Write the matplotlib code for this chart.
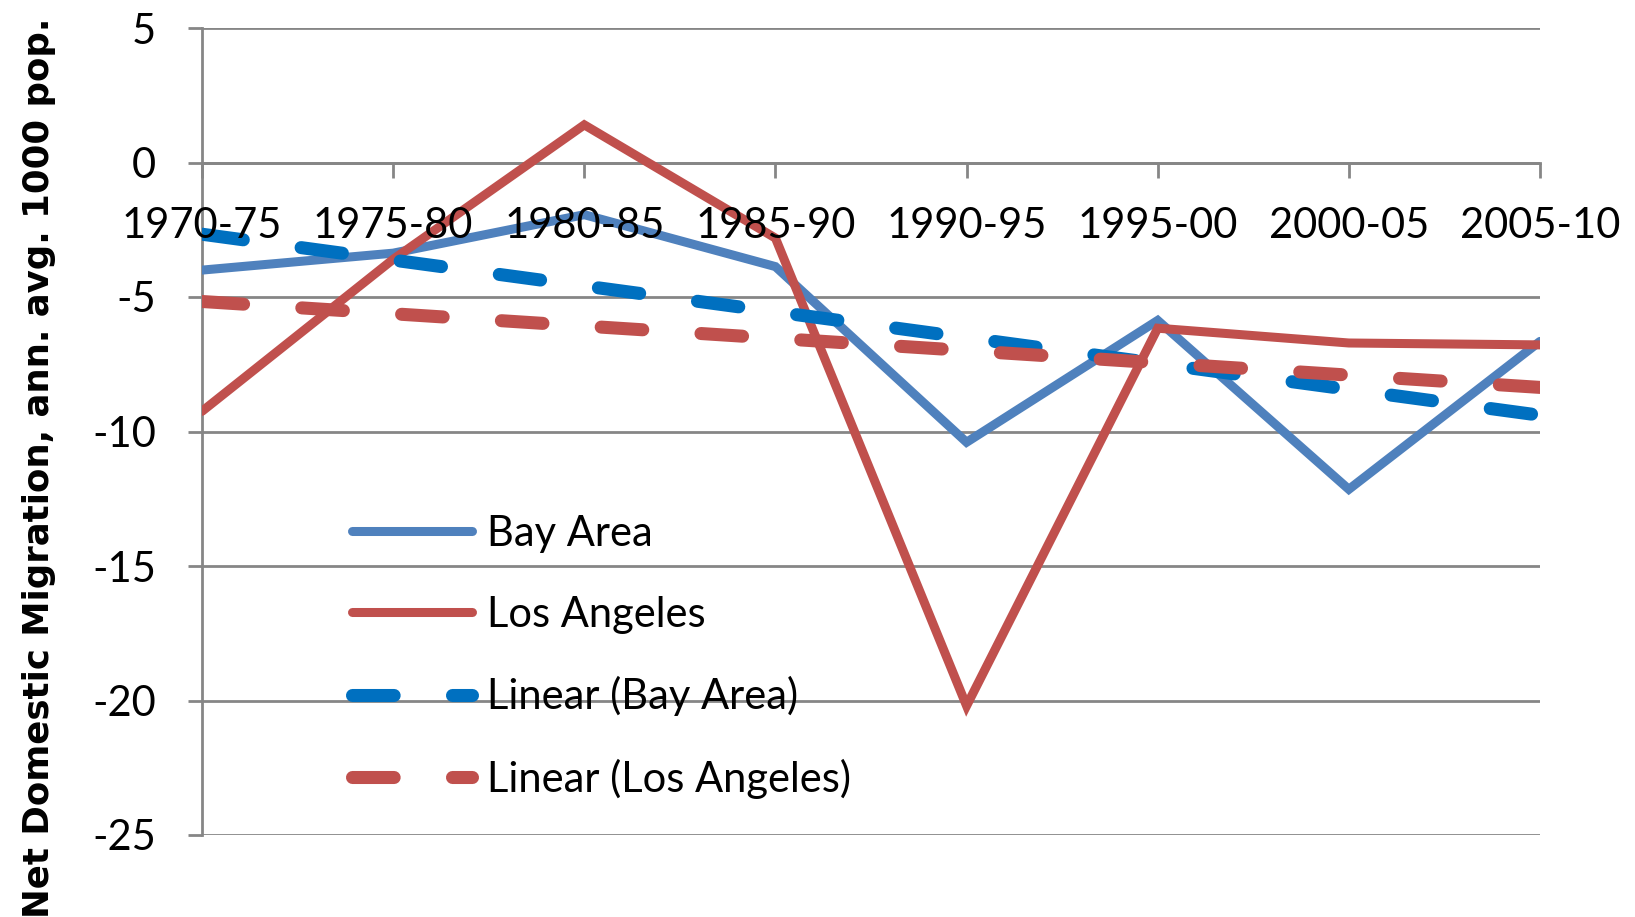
"""
Net domestic migration, Bay Area vs Los Angeles, with linear trend lines.
"""

import numpy as np
import matplotlib
matplotlib.use('Agg')
import matplotlib.pyplot as plt

plt.rcParams['font.family'] = ['Lato', 'DejaVu Sans']
plt.rcParams['lines.scale_dashes'] = False
plt.rcParams['axes.unicode_minus'] = False

periods = ['1970-75', '1975-80', '1980-85', '1985-90',
           '1990-95', '1995-00', '2000-05', '2005-10']
bay_area = [-4.0, -3.37, -1.94, -3.87, -10.4, -5.87, -12.15, -6.65]
los_angeles = [-9.25, -3.6, 1.4, -2.81, -20.2, -6.16, -6.71, -6.78]

grid_color = '#868686'
fs = 30

fig = plt.figure(figsize=(16.35, 9.17), dpi=100)
ax = fig.add_axes([202/1635, 1 - 835/917, 1338/1635, 807/917])

x = np.arange(len(periods))

# trend lines are least-squares fits, like Excel's "Linear" trendline
bay_fit = np.polyval(np.polyfit(x, bay_area, 1), x)
la_fit = np.polyval(np.polyfit(x, los_angeles, 1), x)

ax.plot(x, bay_area, color='#4F81BD', lw=6.5, solid_capstyle='round',
        solid_joinstyle='miter', label='Bay Area', zorder=3)
ax.plot(x, los_angeles, color='#C0504D', lw=6.5, solid_capstyle='round',
        solid_joinstyle='miter', label='Los Angeles', zorder=3)
ax.plot(x, bay_fit, color='#0070C0', lw=9.4, dash_capstyle='round',
        dashes=(30, 42), label='Linear (Bay Area)', zorder=3)
ax.plot(x, la_fit, color='#C0504D', lw=9.4, dash_capstyle='round',
        dashes=(30, 42), label='Linear (Los Angeles)', zorder=3)

ax.set_xlim(0, len(periods) - 1)
ax.set_ylim(-25, 5)
ax.set_yticks(np.arange(-25, 6, 5))
ax.set_xticks(x)
ax.tick_params(axis='x', direction='out', length=11, width=2,
               color=grid_color, labelbottom=False)
ax.tick_params(axis='y', direction='out', length=10, width=2,
               color=grid_color, labelsize=fs, pad=23)

ax.set_axisbelow(True)
ax.yaxis.grid(True, color=grid_color, lw=2)
for side in ['top', 'right']:
    ax.spines[side].set_visible(False)
ax.spines['bottom'].set_position(('data', 0))
for side in ['left', 'bottom']:
    ax.spines[side].set_color(grid_color)
    ax.spines[side].set_linewidth(2)
    ax.spines[side].set_zorder(1)

# category labels sit under the zero line, drawn over the series
for i, lab in enumerate(periods):
    ax.annotate(lab, xy=(i, 0), xytext=(0, -54), textcoords='offset points',
                ha='center', va='baseline', fontsize=fs, zorder=5,
                annotation_clip=False)

ax.legend(loc='upper left', bbox_to_anchor=(352/1635, 1 - 515/917),
          bbox_transform=fig.transFigure, frameon=False, fontsize=fs,
          handlelength=2.88, handletextpad=0.37, labelspacing=1.02,
          borderpad=0, borderaxespad=0)

fig.text(0.024, 0.4896, 'Net Domestic Migration, ann. avg. 1000 pop.',
         rotation=90, ha='center', va='center', fontsize=25.6,
         fontweight='bold', family='DejaVu Sans')

fig.savefig('out.png', dpi=100)
